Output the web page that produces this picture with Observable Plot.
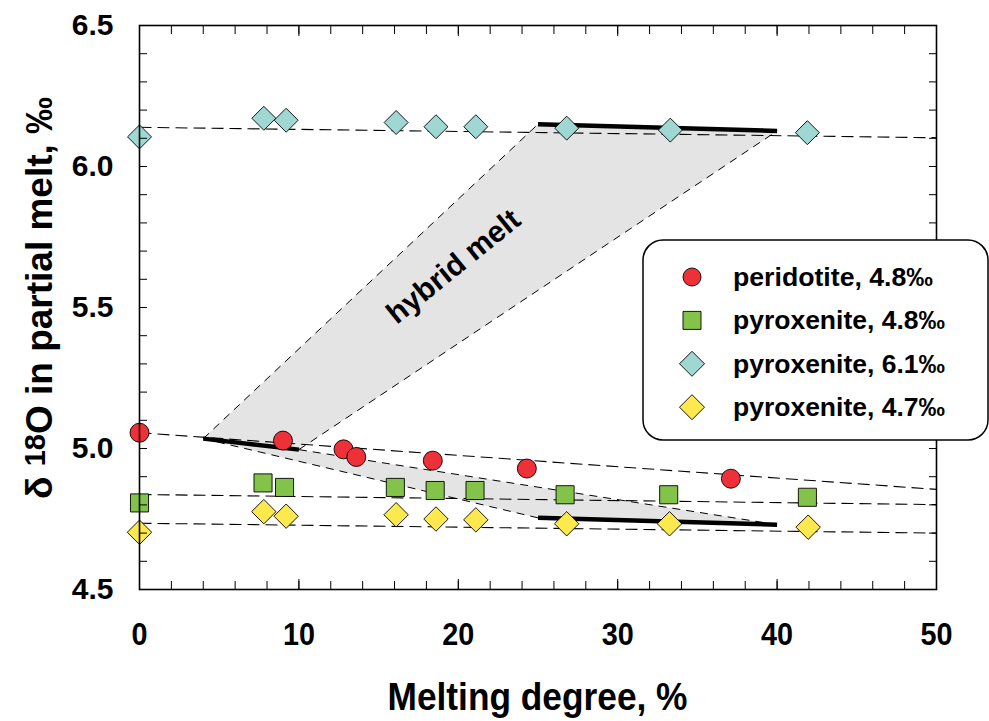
<!DOCTYPE html>
<html><head><meta charset="utf-8">
<script src="https://cdn.jsdelivr.net/npm/d3@7"></script>
<script src="https://cdn.jsdelivr.net/npm/@observablehq/plot@0.6"></script>
<style>
body{margin:0;background:#fff;}
#wrap{position:relative;width:989px;height:721px;font-family:"Liberation Sans",Arial,sans-serif;}
#legend{position:absolute;left:642px;top:239px;}
</style></head><body><div id="wrap"></div>
<script>
// ---- data ----
const peridotiteX = [0, 9.0, 12.8, 13.6, 18.4, 24.3, 37.1];
const peridotiteY = [5.056, 5.028, 4.997, 4.970, 4.957, 4.929, 4.893];
const pyx48X = [0, 7.75, 9.1, 16.05, 18.55, 21.05, 26.7, 33.2, 41.9];
const pyx48Y = [4.807, 4.878, 4.862, 4.862, 4.851, 4.851, 4.836, 4.836, 4.827];
const pyx61X = [0, 7.8, 9.2, 16.1, 18.6, 21.1, 26.8, 33.3, 41.9];
const pyx61Y = [6.105, 6.171, 6.164, 6.156, 6.141, 6.141, 6.136, 6.129, 6.120];
const pyx47X = [0, 7.8, 9.2, 16.1, 18.6, 21.1, 26.8, 33.25, 41.95];
const pyx47Y = [4.703, 4.776, 4.760, 4.765, 4.750, 4.747, 4.733, 4.733, 4.721];

const seriesNames = ["peridotite, 4.8‰", "pyroxenite, 4.8‰", "pyroxenite, 6.1‰", "pyroxenite, 4.7‰"];
const seriesColors = ["#ee3038", "#84c34a", "#9fd8d3", "#fde84e"];
const seriesSymbols = ["circle", "square", "diamond2", "diamond2"];

// dashed trend lines (x from 0 to 50)
const trendX = [0, 50];
const peridotiteTrendY = [5.056, 4.855];
const pyx48TrendY = [4.837, 4.801];
const pyx61TrendY = [6.139, 6.102];
const pyx47TrendY = [4.735, 4.700];

// hybrid melt regions
const hybridUpperX = [4, 25, 40, 10];
const hybridUpperY = [5.035, 6.150, 6.126, 4.996];
const hybridLowerX = [4, 10, 40, 25];
const hybridLowerY = [5.035, 4.996, 4.730, 4.754];
// thick melt-composition segments
const thickA_X = [4, 10],  thickA_Y = [5.035, 4.996];
const thickB_X = [25, 40], thickB_Y = [6.150, 6.126];
const thickC_X = [25, 40], thickC_Y = [4.754, 4.730];
const hybridLabel = {text: "hybrid melt", x: 19.7, y: 5.645};

const xMinorTicks = d3.range(0, 51, 2);
const xMajorTicks = [0, 10, 20, 30, 40, 50];
const yMinorTicks = d3.range(45, 66).map(d => d / 10);
const yMajorTicks = [4.5, 5.0, 5.5, 6.0, 6.5];
const xTitle = "Melting degree, %";

// ---- build ----
const rows = (xs, ys) => xs.map((x, i) => ({x, y: ys[i]}));
const seriesX = [peridotiteX, pyx48X, pyx61X, pyx47X];
const seriesY = [peridotiteY, pyx48Y, pyx61Y, pyx47Y];
const seriesR = [9.5, 10.2, 10.8, 11.0];
const trendYs = [peridotiteTrendY, pyx48TrendY, pyx61TrendY, pyx47TrendY];

const dash = {x: "x", y: "y", stroke: "#000", strokeWidth: 1.1, strokeDasharray: "12,6", strokeLinecap: "butt"};
const edge = {x: "x", y: "y", stroke: "#000", strokeWidth: 1, strokeDasharray: "8,6", strokeLinecap: "butt"};
const thick = {x: "x", y: "y", stroke: "#000", strokeWidth: 4.5, strokeLinecap: "butt"};

const plot = Plot.plot({
  width: 989, height: 721,
  marginLeft: 139, marginRight: 53, marginTop: 25, marginBottom: 132,
  x: {domain: [0, 50]},
  y: {domain: [4.5, 6.5]},
  style: {fontFamily: '"Liberation Sans", Arial, sans-serif', fontWeight: "bold", background: "transparent", color: "#000"},
  marks: [
    Plot.line(rows(hybridUpperX, hybridUpperY), {x: "x", y: "y", fill: "#e4e4e4", stroke: "none", curve: "linear-closed"}),
    Plot.line(rows(hybridLowerX, hybridLowerY), {x: "x", y: "y", fill: "#e4e4e4", stroke: "none", curve: "linear-closed"}),
    ...trendYs.map(ty => Plot.line(rows(trendX, ty), dash)),
    Plot.line(rows([hybridUpperX[0], hybridUpperX[1]], [hybridUpperY[0], hybridUpperY[1]]), edge),
    Plot.line(rows([hybridUpperX[3], hybridUpperX[2]], [hybridUpperY[3], hybridUpperY[2]]), edge),
    Plot.line(rows([hybridLowerX[1], hybridLowerX[2]], [hybridLowerY[1], hybridLowerY[2]]), edge),
    Plot.line(rows([hybridLowerX[0], hybridLowerX[3]], [hybridLowerY[0], hybridLowerY[3]]), edge),
    Plot.line(rows(thickA_X, thickA_Y), thick),
    Plot.line(rows(thickB_X, thickB_Y), thick),
    Plot.line(rows(thickC_X, thickC_Y), thick),
    Plot.text([hybridLabel], {x: "x", y: "y", text: "text", rotate: -39, fontSize: 30, fontWeight: "bold", fill: "#000"}),
    ...seriesX.map((xs, k) => Plot.dot(rows(xs, seriesY[k]), {
      x: "x", y: "y", symbol: seriesSymbols[k], r: seriesR[k],
      fill: seriesColors[k], stroke: "#000", strokeWidth: 0.9
    })),
    Plot.frame({stroke: "#000", strokeWidth: 1.6}),
    Plot.axisX({anchor: "bottom", ticks: xMinorTicks, tickSize: -8, fill: "none", label: null}),
    Plot.axisX({anchor: "bottom", ticks: xMajorTicks, tickSize: -10, fill: "none", label: null}),
    Plot.axisX({anchor: "top", ticks: xMinorTicks, tickSize: -8, fill: "none", label: null}),
    Plot.axisX({anchor: "top", ticks: xMajorTicks, tickSize: -10, fill: "none", label: null}),
    Plot.axisY({anchor: "left", ticks: yMinorTicks, tickSize: -8, fill: "none", label: null}),
    Plot.axisY({anchor: "right", ticks: yMinorTicks, tickSize: -8, fill: "none", label: null}),
    Plot.axisX({anchor: "bottom", ticks: xMajorTicks, tickSize: 0, tickPadding: 33, stroke: "none", fontSize: 32, label: null}),
    Plot.axisY({anchor: "left", ticks: yMajorTicks, tickFormat: ".1f", tickSize: 0, tickPadding: 26, stroke: "none", fontSize: 30, label: null})
  ]
});
const wrap = document.getElementById("wrap");
wrap.appendChild(plot);
const svg = d3.select(plot);

// condensed x tick labels
svg.selectAll('g[aria-label="x-axis tick label"] text').each(function() {
  const t = d3.select(this);
  t.attr("textLength", this.textContent.length * 16).attr("lengthAdjust", "spacingAndGlyphs");
});

// x title
svg.append("text")
  .attr("x", 537.5).attr("y", 710)
  .attr("text-anchor", "middle")
  .attr("font-size", 39).attr("font-weight", "bold")
  .attr("textLength", 300).attr("lengthAdjust", "spacingAndGlyphs")
  .attr("fill", "#000")
  .text(xTitle);

// y title with superscript
const yt = svg.append("text")
  .attr("transform", "translate(52,298) rotate(-90)")
  .attr("text-anchor", "middle")
  .attr("font-size", 37).attr("font-weight", "bold").attr("fill", "#000");
yt.append("tspan").text("δ ");
yt.append("tspan").attr("font-size", 29).attr("dy", -7).text("18");
yt.append("tspan").attr("dy", 7).text("O in partial melt, ‰");

// legend
const leg = d3.select(wrap).append("svg").attr("id", "legend")
  .attr("width", 348).attr("height", 203);
leg.append("rect").attr("x", 1).attr("y", 1).attr("width", 345).attr("height", 200)
  .attr("rx", 20).attr("ry", 20).attr("fill", "#fff").attr("stroke", "#000").attr("stroke-width", 1.5);
const legendText = [200, 212, 212, 212];
seriesNames.forEach((name, k) => {
  const cy = 38 + k * 43.4;
  const cx = 50;
  const sym = d3.symbol().type(k === 0 ? d3.symbolCircle : k === 1 ? d3.symbolSquare : d3.symbolDiamond2)
    .size(k === 0 ? Math.PI * 81 : k === 1 ? 324 : Math.pow(25 / 1.2525, 2));
  leg.append("path").attr("d", sym()).attr("transform", `translate(${cx},${cy})`)
    .attr("fill", seriesColors[k]).attr("stroke", "#000").attr("stroke-width", 0.9);
  leg.append("text").attr("x", 91).attr("y", cy + 9)
    .attr("font-size", 25).attr("font-weight", "bold").attr("fill", "#000")
    .attr("font-family", '"Liberation Sans", Arial, sans-serif')
    .attr("textLength", legendText[k]).attr("lengthAdjust", "spacingAndGlyphs")
    .text(name);
});
</script></body></html>
